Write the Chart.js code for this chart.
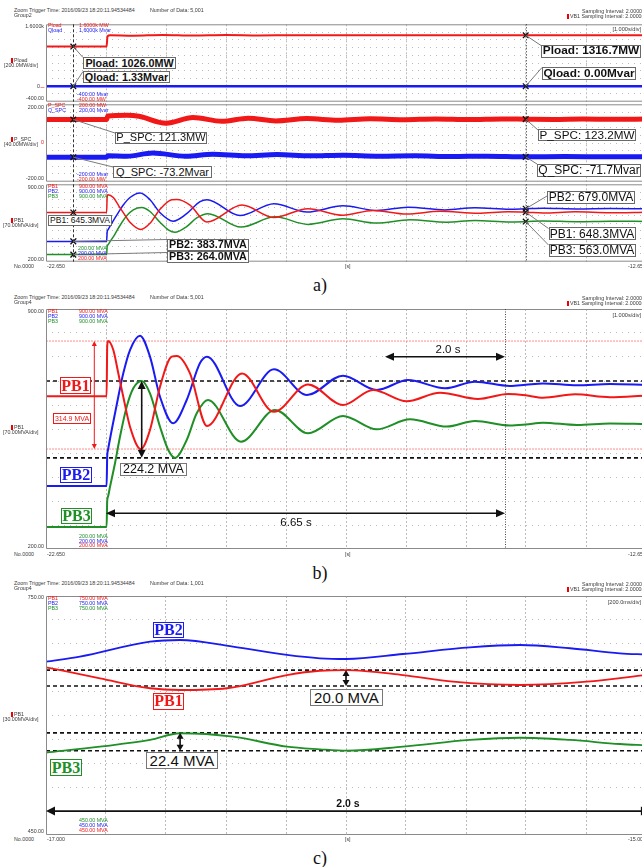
<!DOCTYPE html>
<html>
<head>
<meta charset="utf-8">
<title>PB1 / PB2 / PB3 oscillation records</title>
<script src="https://cdn.jsdelivr.net/npm/chart.js@4.4.1/dist/chart.umd.min.js"></script>
<style>
  html, body { margin:0; padding:0; background:#fff; width:642px; height:867px; overflow:hidden; }
  #page { position:relative; width:660px; height:867px; font-family: Arial, "Liberation Sans", sans-serif; }
  #page canvas { position:absolute; }
  .t { position:absolute; white-space:nowrap; line-height:1; }
  .bx { position:absolute; background:#fff; box-sizing:border-box; white-space:nowrap;
        display:flex; align-items:center; justify-content:center; line-height:1; }
  .mk { display:inline-block; width:2px; height:5px; background:#e00; margin-right:1px; vertical-align:-1px; }
</style>
</head>
<body>
<div id="page"></div>
<script>
// ---------- time axes (s) ----------
const timeAB = [-22.65, -12.65];
const timeC = [-17.0, -15.0];
const cursorT = [-22.195, -14.655];

// ---------- value axes ----------
const rangePload = [-400, 1600];
const rangeSpc = [-200, 200];
const rangePB = [200, 900];
const rangePBc = [450, 750];

// ---------- load power ----------
const ploadT = [-22.65, -21.64, -21.625, -21.58, -21.2, -20.7, -20.2, -19.65, -19.1, -18.5, -14.655, -12.65];
const ploadV = [1026.0, 1026.0, 1290, 1315, 1305, 1325, 1308, 1322, 1312, 1320, 1316.7, 1316.7];
const qloadT = [-22.65, -22.195, -21.64, -21.625, -14.655, -12.65];
const qloadV = [1.33, 1.33, 1.33, 0.0, 0.0, 0.0];

// ---------- SPC power ----------
const pspcT = [-22.65, -22.195, -21.64, -21.62, -21.3, -21.1, -20.65, -20.2, -19.72, -19.28, -18.82, -18.3,
               -17.78, -17.25, -16.7, -16.15, -15.6, -15.05, -14.655, -14.2, -13.7, -13.2, -12.65];
const pspcV = [121.3, 121.3, 121.3, 140, 143, 138, 102, 132, 112, 128, 114, 126,
               118, 125, 120, 124.5, 121, 124.5, 123.2, 122, 124, 122.5, 123.5];
const qspcT = [-22.65, -22.195, -21.64, -21.62, -21.3, -20.87, -20.32, -19.87, -19.32, -18.8, -18.25, -17.7,
               -17.1, -16.5, -15.9, -15.3, -14.655, -14.0, -13.3, -12.65];
const qspcV = [-73.2, -73.2, -73.2, -66, -68, -52, -68, -58, -66, -60, -66, -63,
               -68, -66, -70, -68, -71.7, -70, -71, -70.5];

// ---------- branch powers PB1 / PB2 / PB3 (MVA), 10 s record ----------
const pb1T = [-22.65, -21.64, -21.63, -21.617, -21.528, -21.445, -21.362, -21.25, -21.07, -20.917, -20.75, -20.555,
              -20.47, -20.25, -19.967, -19.383, -18.85, -18.283, -17.70, -17.2, -16.638, -16.083, -15.45, -14.95,
              -14.655, -14.367, -13.833, -13.25, -12.65];
const pb1V = [645.3, 645.3, 790, 806.5, 780.4, 712.4, 644, 556.7, 491.6, 547, 673.4, 761,
              763, 712.4, 559, 712, 600, 680, 620, 664, 631, 656, 637.5, 652,
              648.3, 641, 651, 642.5, 648];
const pb2T = [-22.65, -21.64, -21.63, -21.617, -21.555, -21.445, -21.362, -21.25, -21.083, -20.917, -20.75, -20.53,
              -20.305, -20.083, -19.967, -19.417, -18.85, -18.3, -17.7, -17.138, -16.617, -16.0, -15.5, -14.917,
              -14.655, -14.367, -13.805, -13.25, -12.65];
const pb2V = [383.7, 383.7, 470, 488.7, 547, 644, 712.4, 780.4, 822, 761, 644, 566.6,
              634.6, 742.5, 761, 617, 724, 649, 705.5, 663.7, 693, 668.7, 688, 675.4,
              679.0, 683, 677.5, 681, 678.5];
const pb3T = [-22.65, -21.64, -21.63, -21.617, -21.583, -21.5, -21.417, -21.305, -21.195, -21.055, -20.917, -20.75,
              -20.612, -20.5, -20.305, -20.138, -19.95, -19.4, -18.833, -18.283, -17.7, -17.138, -16.583, -15.97,
              -15.5, -14.917, -14.655, -14.367, -13.8, -13.25, -12.65];
const pb3V = [264.0, 264.0, 340, 352.5, 381.6, 450, 527.5, 615, 668.7, 690, 654, 556.7,
              488.7, 465.8, 517.9, 595.7, 634.6, 513, 605.4, 537.4, 588, 549, 578.3, 557,
              573.3, 560, 563.0, 568.4, 561.6, 566, 564.5];

// ---------- branch powers, 2 s close-up ----------
const pb1cT = [-17.0, -16.82, -16.653, -16.553, -16.397, -16.197, -16.087, -15.998, -15.81, -15.643, -15.42, -15.198, -15.0];
const pb1cV = [660.5, 646.7, 634.2, 632, 634.2, 650.8, 656.2, 657.0, 650.8, 642.4, 638.3, 642.4, 651];
const pb2cT = [-17.0, -16.887, -16.653, -16.553, -16.377, -16.197, -16.087, -15.998, -15.81, -15.587, -15.42, -15.253, -15.087, -15.0];
const pb2cV = [667.5, 673.8, 692.6, 694.8, 686.4, 676, 671.8, 670.9, 677.2, 685.6, 688.5, 684.4, 678.1, 676.6];
const pb3cT = [-17.0, -16.82, -16.653, -16.553, -16.377, -16.197, -16.087, -15.998, -15.81, -15.587, -15.42, -15.253, -15.087, -15.0];
const pb3cV = [553.3, 560.9, 569.3, 577.7, 573.4, 560.9, 557.6, 555.8, 560.9, 569.3, 572.1, 569.3, 564.2, 562.6];

// ---------- cursor readouts ----------
const ploadRead = [1026.0, 1316.7];
const qloadRead = [1.33, 0.00];
const pspcRead = [121.3, 123.2];
const qspcRead = [-73.2, -71.7];
const pb1Read = [645.3, 648.3];
const pb2Read = [383.7, 679.0];
const pb3Read = [264.0, 563.0];

// ---------- measurement levels ----------
const pb1Swing = [806.5, 491.6];     // first PB1 swing
const pb3Swing = [690.0, 465.8];     // first PB3 swing
const pb1cBand = [657.0, 637.0];     // PB1 close-up swing
const pb3cBand = [578.2, 555.8];     // PB3 close-up swing
const settleSpan = [-21.65, -15.0];  // settling time marker
const periodSpan = [-17.0, -15.0];   // 2 s window

// ---------- names / tick texts ----------
const seriesNames = ['PB1', 'PB2', 'PB3'];
const triggerText = 'Zoom Trigger Time: 2016/09/23 18:20:11.94534484';
const groupNames = ['Group2', 'Group4', 'Group4'];
const dataCounts = ['Number of Data: 5,001', 'Number of Data: 5,001', 'Number of Data: 1,001'];
const timeDivs = ['[1.000s/div]', '[1.000s/div]', '[200.0ms/div]'];
const xTickLabels = [['-22.650', '[s]', '-12.65'], ['-22.650', '[s]', '-12.65'], ['-17.000', '[s]', '-15.00']];
const panelTags = ['a)', 'b)', 'c)'];

const COL = { red: '#f21818', blue: '#1a1af2', green: '#1f8f26', grid: '#bcbcbc', frame: '#8a8a8a', text: '#3a3a3a', lred: '#ff8c8c' };
const page = document.getElementById('page');

// ---------- helpers ----------
const pts = (T, V) => T.map((t, i) => ({ x: t, y: V[i] }));
const trace = (T, V, color, w, extra) => Object.assign({
  data: pts(T, V), borderColor: color, borderWidth: w, pointRadius: 0,
  cubicInterpolationMode: 'monotone', fill: false }, extra || {});
const level = (xr, v, color, w, dash) => ({
  data: pts(xr, [v, v]), borderColor: color, borderWidth: w, borderDash: dash, pointRadius: 0, fill: false, order: 5 });
const cross = (T, V) => ({
  data: pts(T, V), showLine: false, pointStyle: 'crossRot', pointRadius: 4,
  pointBorderColor: '#111', pointBorderWidth: 1.3, borderColor: '#111', order: -1 });
const divTicks = (lo, hi) => Array.from({ length: 11 }, (_, k) => ({ value: lo + (hi - lo) * k / 10 }));

function arrowHead(ctx, x, y, dx, dy, L, W) {
  ctx.beginPath();
  ctx.moveTo(x, y);
  ctx.lineTo(x - dx * L - dy * W, y - dy * L + dx * W);
  ctx.lineTo(x - dx * L + dy * W, y - dy * L - dx * W);
  ctx.closePath();
  ctx.fill();
}

// frame, cursors, leader lines and dimension arrows
const overlay = {
  id: 'overlay',
  afterDatasetsDraw(chart, args, opts) {
    const { ctx, chartArea: a, scales: { x, y } } = chart;
    const [ox, oy] = opts.origin;
    for (const it of opts.items || []) {
      ctx.save();
      ctx.strokeStyle = ctx.fillStyle = it.color || '#000';
      ctx.lineWidth = it.width || 1;
      ctx.setLineDash(it.dash || []);
      if (it.k === 'frame') {
        ctx.beginPath();
        ctx.moveTo(a.right, a.top + 0.5); ctx.lineTo(a.left + 0.5, a.top + 0.5);
        ctx.lineTo(a.left + 0.5, a.bottom - 0.5); ctx.lineTo(a.right, a.bottom - 0.5);
        ctx.stroke();
      } else if (it.k === 'vline') {
        const px = Math.round(x.getPixelForValue(it.t)) + 0.5;
        ctx.beginPath(); ctx.moveTo(px, a.top); ctx.lineTo(px, a.bottom); ctx.stroke();
      } else if (it.k === 'leader') {
        ctx.beginPath();
        ctx.moveTo(x.getPixelForValue(it.t), y.getPixelForValue(it.v));
        ctx.lineTo(it.to[0] - ox, it.to[1] - oy);
        ctx.stroke();
      } else if (it.k === 'varrow') {
        const px = x.getPixelForValue(it.t);
        const top = y.getPixelForValue(Math.max(it.v1, it.v2));
        const bot = y.getPixelForValue(Math.min(it.v1, it.v2));
        ctx.beginPath(); ctx.moveTo(px, top + it.L * 0.6); ctx.lineTo(px, bot - it.L * 0.6); ctx.stroke();
        ctx.setLineDash([]);
        arrowHead(ctx, px, top, 0, -1, it.L, it.W);
        arrowHead(ctx, px, bot, 0, 1, it.L, it.W);
      } else if (it.k === 'harrow') {
        const py = y.getPixelForValue(it.v);
        const l = x.getPixelForValue(it.t1), r = x.getPixelForValue(it.t2);
        ctx.beginPath(); ctx.moveTo(l + it.L * 0.6, py); ctx.lineTo(r - it.L * 0.6, py); ctx.stroke();
        arrowHead(ctx, l, py, -1, 0, it.L, it.W);
        arrowHead(ctx, r, py, 1, 0, it.L, it.W);
      }
      ctx.restore();
    }
  }
};

function plot(area, xr, yr, datasets, items) {
  const pad = { l: 6, r: 6, t: 4, b: 4 };
  const cv = document.createElement('canvas');
  cv.width = area.w + pad.l + pad.r;
  cv.height = area.h + pad.t + pad.b;
  cv.style.left = (area.x - pad.l) + 'px';
  cv.style.top = (area.y - pad.t) + 'px';
  page.appendChild(cv);
  const edge = c => (c.index === 0 || c.index === 10) ? 'rgba(0,0,0,0)' : COL.grid;
  return new Chart(cv, {
    type: 'line',
    data: { datasets },
    options: {
      responsive: false, animation: false, events: [],
      layout: { padding: { left: pad.l, right: pad.r, top: pad.t, bottom: pad.b } },
      plugins: { legend: { display: false }, tooltip: { enabled: false },
                 overlay: { items, origin: [area.x - pad.l, area.y - pad.t] } },
      scales: {
        x: { type: 'linear', min: xr[0], max: xr[1],
             afterBuildTicks: s => { s.ticks = divTicks(xr[0], xr[1]); },
             ticks: { display: false }, grid: { drawTicks: false, color: edge, lineWidth: 1 },
             border: { display: false, dash: [2, 2] } },
        y: { type: 'linear', min: yr[0], max: yr[1],
             afterBuildTicks: s => { s.ticks = divTicks(yr[0], yr[1]); },
             ticks: { display: false }, grid: { drawTicks: false, color: edge, lineWidth: 1 },
             border: { display: false, dash: [1, 5] } }
      }
    },
    plugins: [overlay]
  });
}

function txt(x, y, s, o = {}) {
  const d = document.createElement('div');
  d.className = 't';
  const size = o.size || 5.3;
  d.style.fontSize = size + 'px';
  d.style.color = o.color || COL.text;
  if (o.bold) d.style.fontWeight = 'bold';
  if (o.family) d.style.fontFamily = o.family;
  d.style.top = (y - size / 2) + 'px';
  if (o.align === 'right') d.style.right = (660 - x) + 'px';
  else if (o.align === 'center') { d.style.left = x + 'px'; d.style.transform = 'translateX(-50%)'; }
  else d.style.left = x + 'px';
  if (o.mark) { const m = document.createElement('span'); m.className = 'mk'; d.appendChild(m); }
  d.appendChild(document.createTextNode(s));
  page.appendChild(d);
  return d;
}
function box(x, y, w, h, s, o = {}) {
  const d = document.createElement('div');
  d.className = 'bx';
  Object.assign(d.style, {
    left: x + 'px', top: y + 'px', width: w + 'px', height: h + 'px',
    border: '1px solid ' + (o.border || '#6a6a6a'), color: o.color || '#111',
    fontSize: (o.size || 11) + 'px', fontWeight: o.bold ? 'bold' : 'normal',
    fontFamily: o.family || 'Arial, "Liberation Sans", sans-serif' });
  d.textContent = s;
  page.appendChild(d);
}
const yAt = (ch, v) => ch.canvas.offsetTop + ch.scales.y.getPixelForValue(v);

// ---------- plot areas ----------
const AREA_A1 = { x: 46, y: 23, w: 600, h: 80 };
const AREA_A2 = { x: 46, y: 103, w: 600, h: 80 };
const AREA_A3 = { x: 46, y: 183, w: 600, h: 80 };
const AREA_B = { x: 46, y: 309, w: 600, h: 240 };
const AREA_C = { x: 46, y: 596, w: 600, h: 239 };

const frame = { k: 'frame', color: COL.frame, width: 1 };
const cursorLines = [
  { k: 'vline', t: cursorT[0], dash: [3, 2], color: '#333', width: 1 },
  { k: 'vline', t: cursorT[1], dash: [1, 2], color: '#333', width: 1 }];
const lead = (t, v, px, py) => ({ k: 'leader', t, v, to: [px, py], color: '#7a7a7a', width: 1 });

// ---------- a) three stacked channels ----------
const A1 = plot(AREA_A1, timeAB, rangePload, [
  cross(cursorT, ploadRead), cross(cursorT, qloadRead),
  trace(ploadT, ploadV, COL.red, 2), trace(qloadT, qloadV, COL.blue, 2.5)
], [frame, ...cursorLines,
    lead(cursorT[0], ploadRead[0], 83, 57.5), lead(cursorT[0], qloadRead[0], 83, 71.5),
    lead(cursorT[1], ploadRead[1], 541, 45.5), lead(cursorT[1], qloadRead[1], 542, 67.5)]);

const A2 = plot(AREA_A2, timeAB, rangeSpc, [
  cross(cursorT, pspcRead), cross(cursorT, qspcRead),
  trace(pspcT, pspcV, COL.red, 5), trace(qspcT, qspcV, COL.blue, 5)
], [frame, ...cursorLines,
    lead(cursorT[0], pspcRead[0], 115, 133), lead(cursorT[0], qspcRead[0], 113, 167),
    lead(cursorT[1], pspcRead[1], 538, 130), lead(cursorT[1], qspcRead[1], 537, 164)]);

const A3 = plot(AREA_A3, timeAB, rangePB, [
  cross(cursorT, pb1Read), cross(cursorT, pb2Read), cross(cursorT, pb3Read),
  trace(pb1T, pb1V, COL.red, 1.5), trace(pb2T, pb2V, COL.blue, 1.5), trace(pb3T, pb3V, COL.green, 1.5)
], [frame, ...cursorLines,
    lead(cursorT[0], pb2Read[0], 167, 239.5), lead(cursorT[0], pb3Read[0], 167, 252.5),
    lead(cursorT[1], pb2Read[1], 547, 196), lead(cursorT[1], pb1Read[1], 548.5, 228.5),
    lead(cursorT[1], pb3Read[1], 548.5, 245)]);

// ---------- b) PB1..PB3 over 10 s ----------
const B = plot(AREA_B, timeAB, rangePB, [
  trace(pb1T, pb1V, COL.red, 2), trace(pb2T, pb2V, COL.blue, 2), trace(pb3T, pb3V, COL.green, 2),
  level(timeAB, pb1Swing[0], COL.lred, 1, [2, 1]), level(timeAB, pb1Swing[1], COL.lred, 1, [2, 1]),
  level(timeAB, pb3Swing[0], '#111', 1.6, [4, 3]), level(timeAB, pb3Swing[1], '#111', 1.6, [4, 3])
], [frame,
    { k: 'vline', t: settleSpan[1], dash: [1, 1.5], color: '#444', width: 1 },
    { k: 'varrow', t: -21.845, v1: pb1Swing[0], v2: pb1Swing[1], color: COL.red, width: 1, L: 5, W: 2.5 },
    { k: 'varrow', t: -21.055, v1: pb3Swing[0], v2: pb3Swing[1], color: '#111', width: 1.6, L: 8, W: 4 },
    { k: 'harrow', t1: periodSpan[0], t2: periodSpan[1], v: 761, color: '#111', width: 1.5, L: 9, W: 4 },
    { k: 'harrow', t1: settleSpan[0], t2: settleSpan[1], v: 304, color: '#111', width: 1.5, L: 9, W: 4 }]);

// ---------- c) PB1..PB3 over 2 s ----------
const C = plot(AREA_C, timeC, rangePBc, [
  trace(pb1cT, pb1cV, COL.red, 1.8), trace(pb2cT, pb2cV, COL.blue, 1.8), trace(pb3cT, pb3cV, COL.green, 1.8),
  level(timeC, pb1cBand[0], '#111', 1.6, [4, 3]), level(timeC, pb1cBand[1], '#111', 1.6, [4, 3]),
  level(timeC, pb3cBand[0], '#111', 1.6, [4, 3]), level(timeC, pb3cBand[1], '#111', 1.6, [4, 3])
], [frame,
    { k: 'varrow', t: -16.0, v1: pb1cBand[0], v2: pb1cBand[1], color: '#111', width: 1.6, L: 6, W: 3.5 },
    { k: 'varrow', t: -16.553, v1: pb3cBand[0], v2: pb3cBand[1], color: '#111', width: 1.6, L: 6, W: 3.5 },
    { k: 'harrow', t1: periodSpan[0], t2: periodSpan[1] + 0.013, v: 480, color: '#111', width: 1.6, L: 9, W: 4.5 }]);

// ---------- headers / footers ----------
const headY = [11, 298, 584];
const footY = [267, 555, 840];
const tagY = [285, 573, 858];
for (let i = 0; i < 3; i++) {
  txt(14, headY[i], triggerText);
  txt(14, headY[i] + 5, groupNames[i]);
  txt(150, headY[i], dataCounts[i]);
  txt(582, headY[i] + 0.5, 'Sampling Interval:  2.0000ms');
  txt(567, headY[i] + 6, 'VB1 Sampling Interval:  2.0000ms', { mark: true });
  txt(14, footY[i], 'No.0000');
  txt(47, footY[i], xTickLabels[i][0]);
  txt(345, footY[i], xTickLabels[i][1]);
  txt(628, footY[i], xTickLabels[i][2]);
  txt(320, tagY[i], panelTags[i], { size: 18, family: '"Liberation Serif", "Times New Roman", serif', color: '#111', align: 'center' });
}
txt(641, 29.5, timeDivs[0], { align: 'right', size: 5.6 });
txt(641, 316, timeDivs[1], { align: 'right', size: 5.6 });
txt(641, 602.5, timeDivs[2], { align: 'right', size: 5.6 });

// ---------- a) axis and channel texts ----------
txt(44, yAt(A1, rangePload[1]) + 2.5, '1.6000k', { align: 'right' });
txt(40, yAt(A1, 0), '0', { align: 'right' });
txt(40.5, yAt(A1, 0), '–', { color: COL.red, size: 7 });
txt(44, yAt(A1, rangePload[0]) - 3, '-400.00', { align: 'right' });
txt(11, 60.5, 'Pload', { mark: true });
txt(4, 65.5, '[200.0MW/div]');
txt(48, 25.5, 'Pload', { color: COL.red }); txt(79, 25.5, '1.6000k MW', { color: COL.red });
txt(48, 31, 'Qload', { color: COL.blue }); txt(79, 31, '1.6000k Mvar', { color: COL.blue });
txt(77, 94.5, '-400.00 Mvar', { color: COL.blue }); txt(77, 99.5, '-400.00 MW', { color: COL.red });

txt(44, yAt(A2, rangeSpc[1]) + 3, '200.00', { align: 'right' });
txt(44, yAt(A2, 0), '0', { align: 'right', color: COL.red });
txt(44, yAt(A2, rangeSpc[0]) - 3, '-200.00', { align: 'right' });
txt(11, 140, 'P_SPC', { mark: true });
txt(4, 145, '[40.00MW/div]');
txt(48, 106, 'P_SPC', { color: COL.red }); txt(79, 106, '200.00 MW', { color: COL.red });
txt(48, 111, 'Q_SPC', { color: COL.blue }); txt(79, 111, '200.00 Mvar', { color: COL.blue });
txt(77, 174.5, '-200.00 Mvar', { color: COL.blue }); txt(77, 179.5, '-200.00 MW', { color: COL.red });

txt(44, yAt(A3, rangePB[1]) + 3, '900.00', { align: 'right' });
txt(44, yAt(A3, rangePB[0]) - 2, '200.00', { align: 'right' });
txt(11, 221, 'PB1', { mark: true });
txt(3, 226, '[70.00MVA/div]');
const pbCols = [COL.red, COL.blue, COL.green];
seriesNames.forEach((n, i) => {
  txt(48, 186.5 + 5 * i, n, { color: pbCols[i] });
  txt(79, 186.5 + 5 * i, rangePB[1].toFixed(2) + ' MVA', { color: pbCols[i] });
  txt(78, 249 + 5 * (2 - i), rangePB[0].toFixed(2) + ' MVA', { color: pbCols[i] });
});

// cursor readout boxes
box(83, 57, 93, 12, `Pload: ${ploadRead[0].toFixed(1)}MW`, { size: 10.8, bold: true });
box(83, 71, 87, 12, `Qload: ${qloadRead[0].toFixed(2)}Mvar`, { size: 10.8, bold: true });
box(541, 45, 100, 12.5, `Pload: ${ploadRead[1].toFixed(1)}MW`, { size: 11.8, bold: true });
box(542, 67, 94, 13, `Qload: ${qloadRead[1].toFixed(2)}Mvar`, { size: 11.8, bold: true });
box(115, 131.5, 92, 12, `P_SPC: ${pspcRead[0].toFixed(1)}MW`, { size: 11 });
box(113, 166, 99, 12, `Q_SPC: ${qspcRead[0].toFixed(1)}Mvar`, { size: 11 });
box(538, 128.5, 98, 12.5, `P_SPC: ${pspcRead[1].toFixed(1)}MW`, { size: 11.7 });
box(537, 163.5, 104, 13, `Q_SPC: ${qspcRead[1].toFixed(1)}Mvar`, { size: 12 });
box(48, 215, 64, 10.5, `PB1: ${pb1Read[0].toFixed(1)}MVA`, { size: 8.5 });
box(167, 238.5, 82, 12, `PB2: ${pb2Read[0].toFixed(1)}MVA`, { size: 10.8, bold: true });
box(167, 250.5, 82, 12, `PB3: ${pb3Read[0].toFixed(1)}MVA`, { size: 10.8, bold: true });
box(547, 191, 88, 12.5, `PB2: ${pb2Read[1].toFixed(1)}MVA`, { size: 12 });
box(548.5, 227, 87, 13, `PB1: ${pb1Read[1].toFixed(1)}MVA`, { size: 12 });
box(548.5, 243.5, 87, 13, `PB3: ${pb3Read[1].toFixed(1)}MVA`, { size: 12 });

// ---------- b) texts ----------
const serif = '"Liberation Serif", "Times New Roman", serif';
txt(44, yAt(B, rangePB[1]) + 2.5, '900.00', { align: 'right' });
txt(44, yAt(B, rangePB[0]) - 2, '200.00', { align: 'right' });
txt(11, 428, 'PB1', { mark: true });
txt(3, 433, '[70.00MVA/div]');
seriesNames.forEach((n, i) => {
  txt(48, 311.5 + 5 * i, n, { color: pbCols[i] });
  txt(79, 311.5 + 5 * i, rangePB[1].toFixed(2) + ' MVA', { color: pbCols[i] });
  txt(79, 536.5 + 4.7 * (2 - i), rangePB[0].toFixed(2) + ' MVA', { color: pbCols[i] });
});
box(60, 377, 31, 17, seriesNames[0], { size: 16, bold: true, family: serif, color: COL.red, border: COL.red });
box(60, 466.5, 32, 16, seriesNames[1], { size: 16, bold: true, family: serif, color: COL.blue, border: COL.blue });
box(61, 508, 31, 16, seriesNames[2], { size: 16, bold: true, family: serif, color: COL.green, border: COL.green });
box(53, 413, 38, 11, (pb1Swing[0] - pb1Swing[1]).toFixed(1) + ' MVA', { size: 7, color: COL.red, border: COL.red });
box(120, 463, 67, 13, (pb3Swing[0] - pb3Swing[1]).toFixed(1) + ' MVA', { size: 12.5, border: '#777' });
txt(448, 349.5, (periodSpan[1] - periodSpan[0]).toFixed(1) + ' s', { size: 11.5, align: 'center', color: '#111' });
txt(296, 523, (settleSpan[1] - settleSpan[0]).toFixed(2) + ' s', { size: 11.5, align: 'center', color: '#111' });

// ---------- c) texts ----------
txt(44, yAt(C, rangePBc[1]) + 2, '750.00', { align: 'right' });
txt(44, yAt(C, rangePBc[0]) - 3, '450.00', { align: 'right' });
txt(11, 714.5, 'PB1', { mark: true });
txt(3, 719.5, '[30.00MVA/div]');
seriesNames.forEach((n, i) => {
  txt(48, 599 + 5 * i, n, { color: pbCols[i] });
  txt(79, 599 + 5 * i, rangePBc[1].toFixed(2) + ' MVA', { color: pbCols[i] });
  txt(79, 821 + 4.6 * (2 - i), rangePBc[0].toFixed(2) + ' MVA', { color: pbCols[i] });
});
box(153, 621.5, 31, 16.5, seriesNames[1], { size: 16, bold: true, family: serif, color: COL.blue, border: COL.blue });
box(153, 693, 31, 16.5, seriesNames[0], { size: 16, bold: true, family: serif, color: COL.red, border: COL.red });
box(50, 759, 32, 17, seriesNames[2], { size: 16, bold: true, family: serif, color: COL.green, border: COL.green });
box(310, 689, 73, 16.5, (pb1cBand[0] - pb1cBand[1]).toFixed(1) + ' MVA', { size: 15, border: '#777' });
box(146, 752, 72, 16.5, (pb3cBand[0] - pb3cBand[1]).toFixed(1) + ' MVA', { size: 15, border: '#777' });
txt(348, 803, (periodSpan[1] - periodSpan[0]).toFixed(1) + ' s', { size: 10.5, bold: true, align: 'center', color: '#111' });
</script>
</body>
</html>
